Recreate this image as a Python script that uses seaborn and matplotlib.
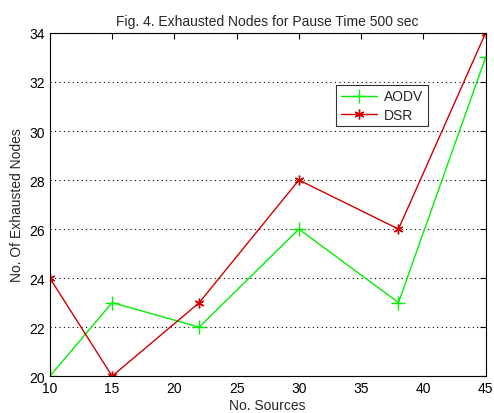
import matplotlib
matplotlib.use("Agg")
import matplotlib.pyplot as plt
import seaborn as sns
import pandas as pd

sources = [10, 15, 22, 30, 38, 45]
aodv = [20, 23, 22, 26, 23, 33]
dsr = [24, 20, 23, 28, 26, 34]
xticks = [10, 15, 20, 25, 30, 35, 40, 45]
yticks = [20, 22, 24, 26, 28, 30, 32, 34]

sns.set_style("white")
plt.rcParams['font.family'] = ['Liberation Sans', 'DejaVu Sans']

df = pd.DataFrame({"x": sources * 2, "y": aodv + dsr,
                   "proto": ["AODV"] * len(sources) + ["DSR"] * len(sources)})

fig = plt.figure(figsize=(4.94, 4.14), dpi=100)
ax = fig.add_axes([0.101, 0.089, 0.882, 0.829])

sns.lineplot(data=df[df.proto == "AODV"], x="x", y="y", ax=ax, color="#00ee00",
             marker="+", markersize=10, markeredgewidth=1.0, markeredgecolor="#00ee00",
             linewidth=1.0, label="AODV")
sns.lineplot(data=df[df.proto == "DSR"], x="x", y="y", ax=ax, color="#d00000",
             marker=(6, 2, 0), markersize=7, markeredgewidth=1.0, markeredgecolor="#d00000",
             linewidth=1.0, label="DSR")

ax.set_xlim(10, 45)
ax.set_ylim(20, 34)
ax.set_xticks(xticks)
ax.set_yticks(yticks)
ax.tick_params(direction="in", top=True, right=True, length=4, labelsize=10, colors="black")
ax.yaxis.grid(True, linestyle=(0, (1, 3)), color="black", linewidth=0.8)
ax.xaxis.grid(False)
for s in ax.spines.values():
    s.set_color("black")
    s.set_linewidth(0.8)

ax.set_title("Fig. 4. Exhausted Nodes for Pause Time 500 sec", fontsize=10, pad=6)
ax.set_xlabel("No. Sources", fontsize=10, labelpad=2)
ax.set_ylabel("No. Of Exhausted Nodes", fontsize=10, labelpad=4)

leg = ax.legend(loc="upper left", bbox_to_anchor=(0.64, 0.87), frameon=True, fancybox=False,
                fontsize=10, handlelength=2.6, borderpad=0.35, labelspacing=0.3,
                handletextpad=0.5)
leg.get_frame().set_edgecolor("black")
leg.get_frame().set_linewidth(0.8)

fig.savefig("out.png", dpi=100)
